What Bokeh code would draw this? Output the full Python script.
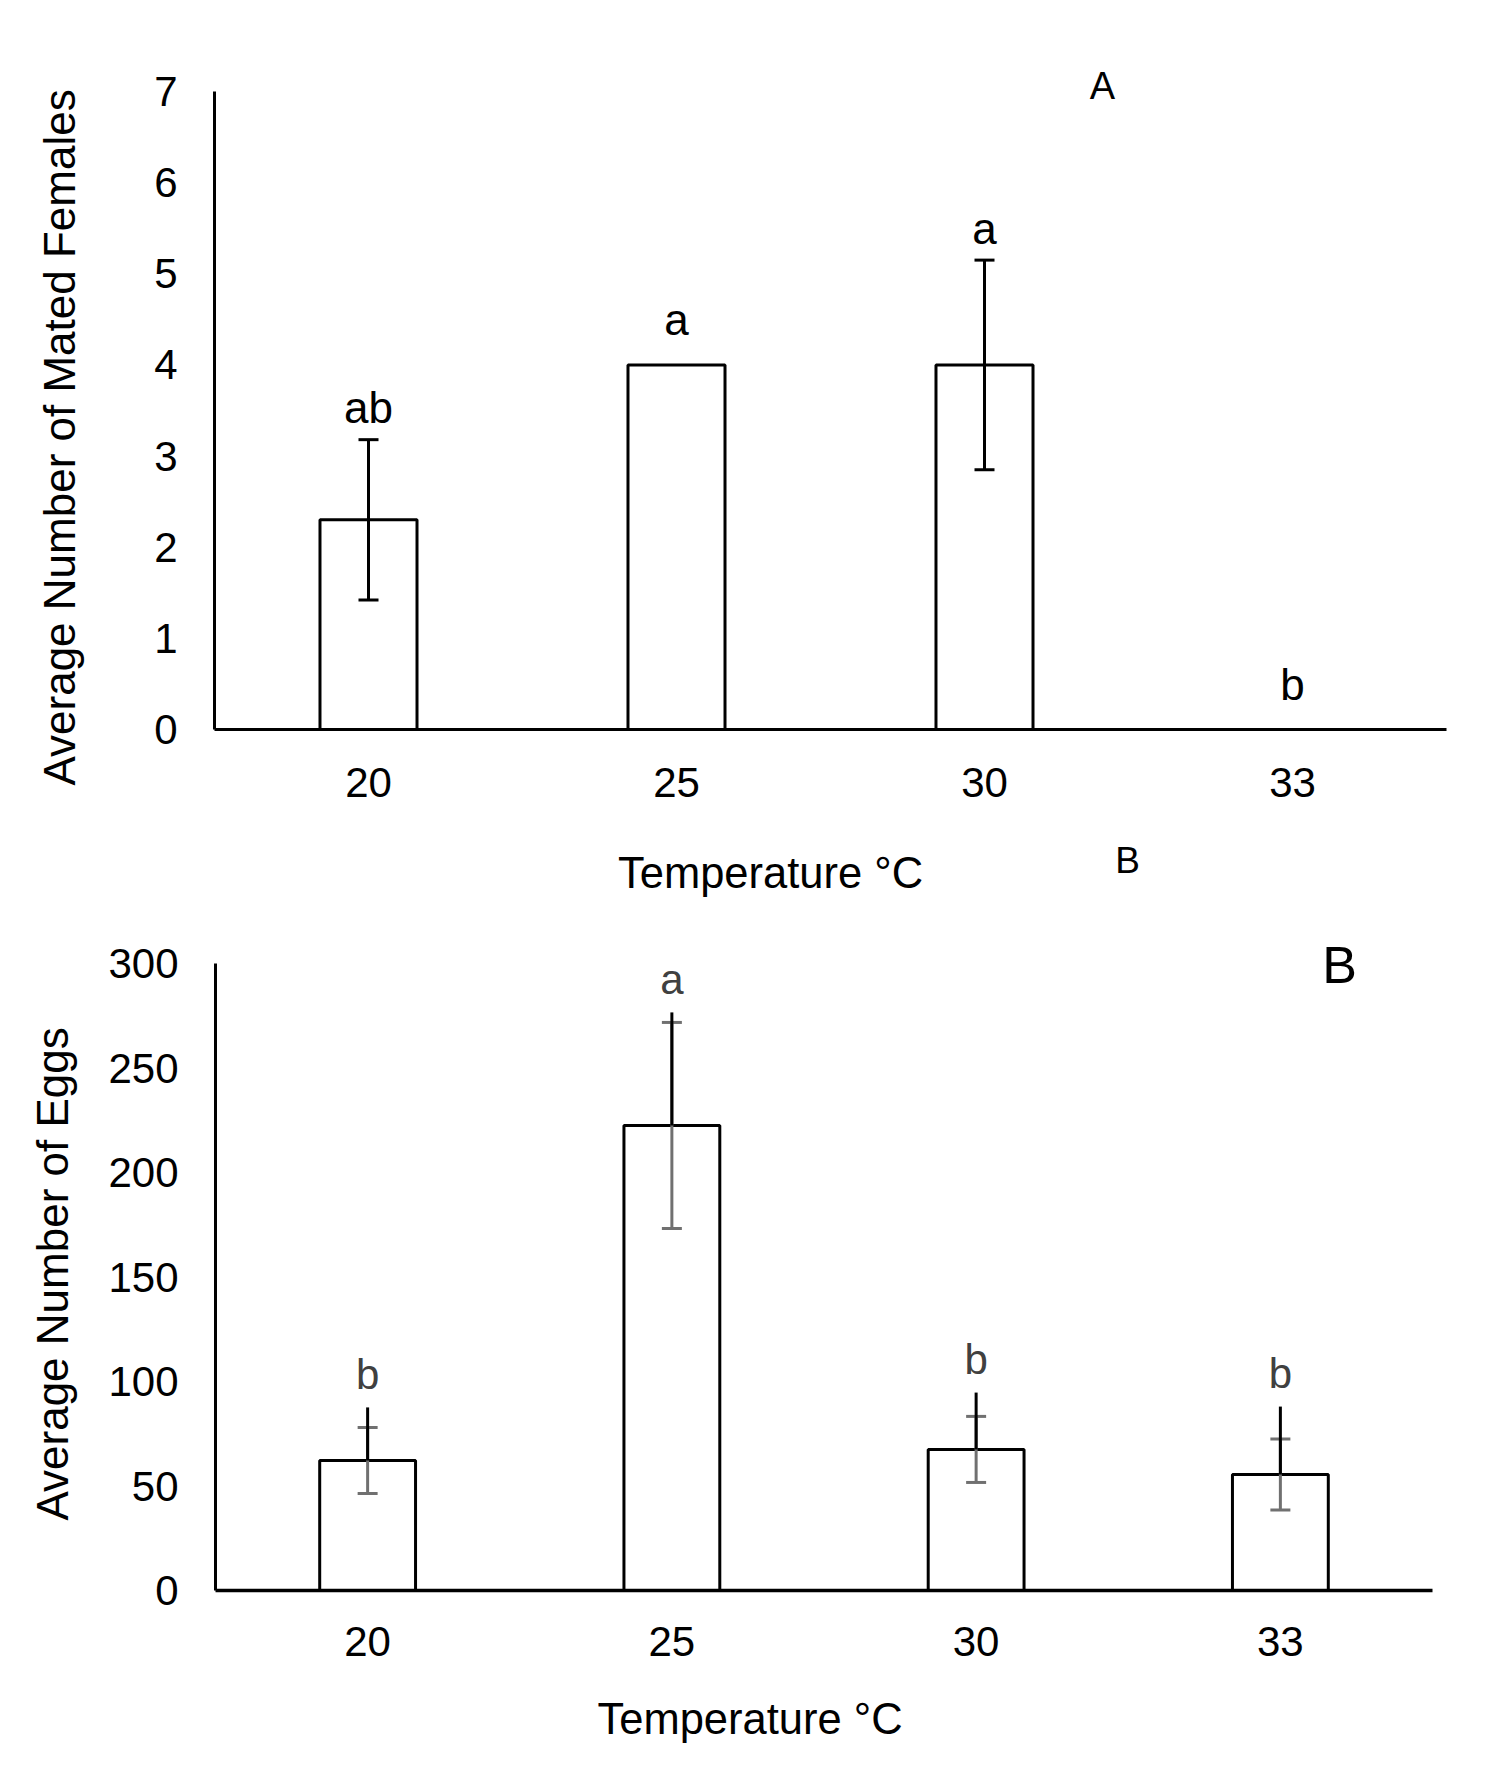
from bokeh.core.properties import value
from bokeh.embed import file_html
from bokeh.layouts import column, row
from bokeh.models import (ColumnDataSource, FactorRange, FixedTicker, Label,
                          Range1d, TeeHead, Title, Whisker)
from bokeh.plotting import figure
from bokeh.resources import INLINE

# ---- data -----------------------------------------------------------------
temps = ["20", "25", "30", "33"]

# Panel A: mated females per temperature
mated_mean = [2.3, 4.0, 4.0, 0.0]
mated_se = [0.88, 0.0, 1.15, 0.0]
mated_letters = ["ab", "a", "a", "b"]

# Panel B: eggs per temperature
egg_mean = [62.2, 222.5, 67.5, 55.5]
egg_se = [15.8, 49.3, 15.8, 17.0]          # grey capped bar (+/-)
egg_upper = [25.4, 54.1, 27.2, 32.5]       # black upward stroke above the bar
egg_letters = ["b", "a", "b", "b"]

mated_ticks = [0, 1, 2, 3, 4, 5, 6, 7]
egg_ticks = [0, 50, 100, 150, 200, 250, 300]

FONT = "Liberation Sans"
BAR_W = 0.315


def base_figure(frame_w, frame_h, left, right, top, bottom, ytop, axis_max, ticks):
    p = figure(x_range=FactorRange(*temps), y_range=Range1d(0, ytop),
               frame_width=frame_w, frame_height=frame_h,
               min_border_left=left, min_border_right=right,
               min_border_top=top, min_border_bottom=bottom,
               output_backend="svg", toolbar_location=None,
               background_fill_color="white", border_fill_color="white")
    p.outline_line_color = None
    p.xgrid.grid_line_color = None
    p.ygrid.grid_line_color = None
    p.yaxis.ticker = FixedTicker(ticks=ticks)
    p.yaxis.bounds = (0, axis_max)
    for ax in (p.xaxis[0], p.yaxis[0]):
        ax.major_tick_in = 0
        ax.major_tick_out = 0
        ax.minor_tick_in = 0
        ax.minor_tick_out = 0
        ax.axis_line_color = "black"
        ax.axis_line_width = 3
        ax.major_label_text_font = FONT
        ax.major_label_text_font_size = "42px"
        ax.major_label_text_color = "black"
    p.yaxis.major_label_standoff = 37
    return p


def text_label(x, y, text, size):
    return Label(x=x, y=y, x_units="screen", y_units="screen", text=text,
                 text_font=FONT, text_font_size=size,
                 text_align="center", text_baseline="middle",
                 text_color="black")


def side_title(text, align, offset, standoff, size="44px"):
    return Title(text=text, align=align, offset=offset, standoff=standoff,
                 vertical_align="top", text_font=FONT, text_font_size=size,
                 text_font_style="normal", text_color="black")


# ---- panel A --------------------------------------------------------------
TITLE_W = 130         # strip on the left that carries the rotated axis title
P1_H = 840

# frame spans 62..729 px; the value axis itself stops at 7
p1 = base_figure(1232, 667, 214 - TITLE_W, 54, 62, P1_H - 729,
                 7 * 667 / 638, 7, mated_ticks)
p1.xaxis.major_label_standoff = 38

src_a = ColumnDataSource(dict(
    x=temps, mean=mated_mean,
    top=[m + e for m, e in zip(mated_mean, mated_se)],
    letters=mated_letters,
    off=[-32 if e > 0 else -45.5 for e in mated_se],
))
p1.vbar(x="x", top="mean", width=BAR_W, source=src_a,
        fill_color="white", line_color="black", line_width=3)

keep = [i for i, e in enumerate(mated_se) if e > 0]
err_a = ColumnDataSource(dict(
    x=[temps[i] for i in keep],
    lo=[mated_mean[i] - mated_se[i] for i in keep],
    hi=[mated_mean[i] + mated_se[i] for i in keep],
))
p1.add_layout(Whisker(base="x", lower="lo", upper="hi", source=err_a,
                      dimension="height", level="annotation",
                      line_color="black", line_width=3,
                      upper_head=TeeHead(size=20, line_color="black", line_width=3),
                      lower_head=TeeHead(size=20, line_color="black", line_width=3)))

p1.text(x="x", y="top", text="letters", y_offset="off", source=src_a,
        text_font=value(FONT), text_font_size=value("44px"),
        text_align="center", text_baseline="middle", text_color="black")

p1.add_layout(text_label(888, 644, "A", "38px"))

# narrow strip whose left panel holds the rotated y title of panel A
t1 = figure(width=TITLE_W, height=P1_H, x_range=(0, 1), y_range=(0, 1),
            x_axis_location=None, y_axis_location=None, min_border=0,
            output_backend="svg", toolbar_location=None,
            background_fill_color="white", border_fill_color="white")
t1.outline_line_color = None
t1.grid.visible = False
t1.add_layout(side_title("Average Number of Mated Females", "left", -56, 69), "left")

# ---- panel B --------------------------------------------------------------
# frame spans 840..1590 px of the page; the value axis itself stops at 300
p2 = base_figure(1217, 750, 215, 68, 0, 186, 300 * 750 / 627, 300, egg_ticks)
p2.xaxis.major_label_standoff = 36
p2.xaxis.axis_line_width = 3.5

src_b = ColumnDataSource(dict(
    x=temps, mean=egg_mean,
    lo=[m - e for m, e in zip(egg_mean, egg_se)],
    hi=[m + e for m, e in zip(egg_mean, egg_se)],
    top=[m + u for m, u in zip(egg_mean, egg_upper)],
    letters=egg_letters,
))
p2.vbar(x="x", top="mean", width=BAR_W, source=src_b,
        fill_color="white", line_color="black", line_width=3)
p2.add_layout(Whisker(base="x", lower="lo", upper="hi", source=src_b,
                      dimension="height", level="annotation",
                      line_color="#707070", line_width=3,
                      upper_head=TeeHead(size=20, line_color="#707070", line_width=3),
                      lower_head=TeeHead(size=20, line_color="#707070", line_width=3)))
p2.segment(x0="x", y0="mean", x1="x", y1="top", source=src_b,
           line_color="black", line_width=3, level="overlay")

p2.text(x="x", y="top", text="letters", y_offset=-33, source=src_b,
        text_font=value(FONT), text_font_size=value("42px"),
        text_align="center", text_baseline="middle", text_color="#404040")

# titles sitting between the two panels
p2.add_layout(text_label(555, 718, "Temperature °C", "43.5px"))
p2.add_layout(text_label(912, 730, "B", "37px"))
p2.add_layout(text_label(1124, 626, "B", "52px"))

p2.add_layout(side_title("Temperature °C", "left", 382, 72, "43.5px"), "below")
p2.add_layout(side_title("Average Number of Eggs", "left", 70, 54), "left")

layout = column(row(t1, p1, spacing=0), p2, spacing=0)
open("out.html", "w").write(file_html(layout, INLINE))
